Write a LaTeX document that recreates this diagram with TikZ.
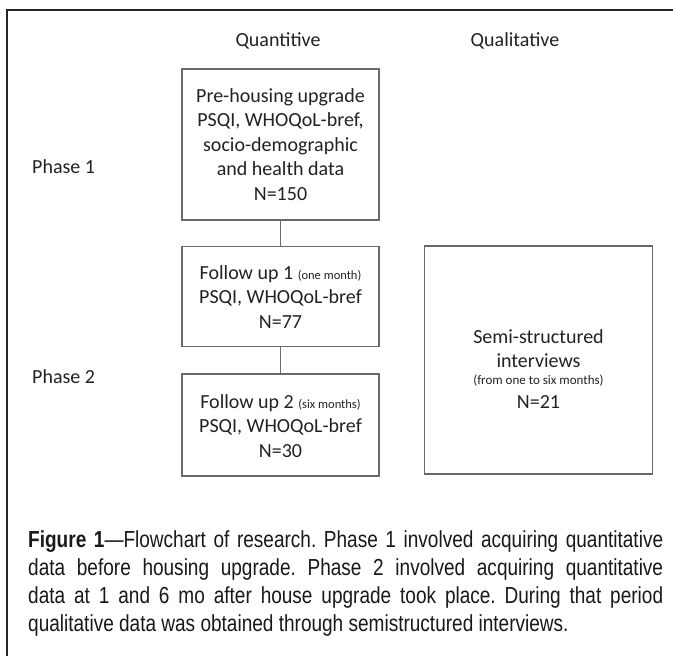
\documentclass[tikz,border=0pt]{standalone}
\usepackage{fontspec}
\setmainfont{Carlito}
\newfontfamily\capfont[FakeStretch=0.82]{Liberation Sans}
\definecolor{boxgray}{HTML}{6A6A6A}
\definecolor{txt}{HTML}{222222}
\frenchspacing
\tikzset{
  box/.style={draw=boxgray, line width=1.3pt, rectangle, inner sep=0pt},
  conn/.style={draw=boxgray, line width=1.2pt},
  btext/.style={align=center, text=txt, inner sep=0pt, font=\fontsize{20}{24.5}\selectfont},
  lbl/.style={text=txt, inner sep=0pt, font=\fontsize{20}{24}\selectfont},
  small/.style={text=txt, inner sep=0pt, font=\fontsize{13}{15}\selectfont},
  capline/.style={anchor=base west, inner sep=0pt, text=black!90, font=\capfont\fontsize{23.2}{28}\selectfont\frenchspacing}
}
\begin{document}
\begin{tikzpicture}[x=1pt,y=-1pt]
\useasboundingbox (0,0) rectangle (673,656);
\fill[white] (0,0) rectangle (673,656);
% open frame
\draw[line width=1.8pt, black!85] (7,656) -- (7,10) -- (673,10);

% headers
\node[lbl] (hquan) at (278,41) {Quantitive};
\node[lbl] (hqual) at (515,41) {Qualitative};

% phase labels
\node[lbl, anchor=west] (ph1) at (32,167) {Phase 1};
\node[lbl, anchor=west] (ph2) at (32,377) {Phase 2};

% boxes
\node[box, minimum width=197pt, minimum height=151pt] (b1) at (280.5,144.5) {};
\node[box, minimum width=197pt, minimum height=100pt] (b2) at (280.5,296.5) {};
\node[box, minimum width=197pt, minimum height=102pt] (b3) at (280.5,425) {};
\node[box, minimum width=228pt, minimum height=228pt] (b4) at (538.5,360) {};

% connectors
\draw[conn] (b1.south) -- (b2.north);
\draw[conn] (b2.south) -- (b3.north);

% box texts
\node[btext] (t1) at (280.5,144.5) {Pre-housing upgrade\\PSQI, WHOQoL-bref,\\socio-demographic\\and health data\\N=150};
\node[btext] (t2) at (280.5,297) {Follow up 1 {\fontsize{12.5}{14}\selectfont(one month)}\\PSQI, WHOQoL-bref\\N=77};
\node[btext] (t3) at (280.5,426) {Follow up 2 {\fontsize{12.5}{14}\selectfont(six months)}\\PSQI, WHOQoL-bref\\N=30};

\node[lbl, anchor=base] (t4a) at (538.5,343) {Semi-structured};
\node[lbl, anchor=base] (t4b) at (538.5,367) {interviews};
\node[small, anchor=base] (t4c) at (538.5,384) {(from one to six months)};
\node[lbl, anchor=base] (t4d) at (538.5,408) {N=21};

% caption
\node[capline] (c1) at (28,547) {\makebox[635pt][s]{\textbf{Figure 1}—Flowchart of research. Phase 1 involved acquiring quantitative}};
\node[capline] (c2) at (28,575) {\makebox[635pt][s]{data before housing upgrade. Phase 2 involved acquiring quantitative}};
\node[capline] (c3) at (28,603) {\makebox[635pt][s]{data at 1 and 6 mo after house upgrade took place. During that period}};
\node[capline] (c4) at (28,631) {qualitative data was obtained through semistructured interviews.};
\end{tikzpicture}
\end{document}
